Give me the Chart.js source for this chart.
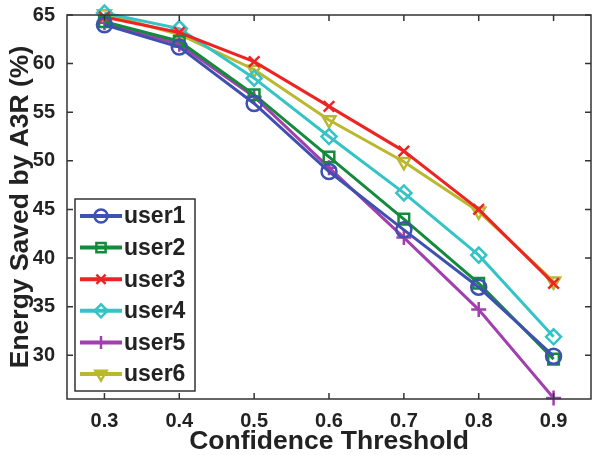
<!DOCTYPE html>
<html>
<head>
<meta charset="utf-8">
<script src="https://cdn.jsdelivr.net/npm/chart.js@4.4.1/dist/chart.umd.min.js"></script>
<style>
  html, body { margin: 0; padding: 0; background: #fff; }
  #wrap { width: 592px; height: 455px; }
</style>
</head>
<body>
<div id="wrap"><canvas id="myChart" width="592" height="455"></canvas></div>
<script>
const thresholds = [0.3, 0.4, 0.5, 0.6, 0.7, 0.8, 0.9];
const user1 = [64.0, 61.7, 55.9, 48.9, 42.9, 37.0, 29.9];
const user2 = [64.3, 62.3, 56.8, 50.4, 44.0, 37.4, 29.6];
const user3 = [64.8, 63.2, 60.2, 55.6, 51.0, 45.0, 37.4];
const user4 = [65.2, 63.6, 58.5, 52.5, 46.7, 40.3, 31.9];
const user5 = [64.2, 62.0, 56.6, 49.3, 42.1, 34.7, 25.6];
const user6 = [65.1, 63.0, 59.4, 54.2, 49.9, 44.8, 37.6];
const xTicks = [0.3, 0.4, 0.5, 0.6, 0.7, 0.8, 0.9];
const yTicks = [30, 35, 40, 45, 50, 55, 60, 65];

const FONT = "'Liberation Sans', Arial, sans-serif";
const INK = '#222';

function series(label, values, color, style, rotation) {
  return {
    label: label,
    data: thresholds.map((t, i) => ({ x: t, y: values[i] })),
    borderColor: color,
    backgroundColor: 'rgba(0,0,0,0)',
    borderWidth: 3,
    pointStyle: style,
    pointRotation: rotation || 0,
    pointRadius: 7.5,
    pointBorderWidth: 2.5,
    pointBorderColor: color,
    pointBackgroundColor: 'rgba(0,0,0,0)',
    tension: 0,
    clip: false,
  };
}

// MATLAB-like box with inward ticks on all four sides
const frame = {
  id: 'frame',
  afterDraw(chart) {
    const { ctx, chartArea: a, scales } = chart;
    ctx.save();
    ctx.strokeStyle = '#333';
    ctx.lineWidth = 1.5;
    ctx.strokeRect(a.left, a.top, a.right - a.left, a.bottom - a.top);
    ctx.beginPath();
    xTicks.forEach(v => {
      const px = scales.x.getPixelForValue(v);
      ctx.moveTo(px, a.bottom); ctx.lineTo(px, a.bottom - 6);
      ctx.moveTo(px, a.top); ctx.lineTo(px, a.top + 6);
    });
    yTicks.forEach(v => {
      const py = scales.y.getPixelForValue(v);
      ctx.moveTo(a.left, py); ctx.lineTo(a.left + 6, py);
      ctx.moveTo(a.right, py); ctx.lineTo(a.right - 6, py);
    });
    ctx.stroke();
    ctx.restore();
  },
};

// legend box in lower-left corner of the plot
const insideLegend = {
  id: 'insideLegend',
  afterDraw(chart) {
    const { ctx, chartArea: a } = chart;
    const left = a.left + 8, top = 199, w = 120, h = 192;
    ctx.save();
    ctx.fillStyle = '#fff';
    ctx.fillRect(left, top, w, h);
    ctx.strokeStyle = '#333';
    ctx.lineWidth = 1.5;
    ctx.strokeRect(left, top, w, h);
    chart.data.datasets.forEach((ds, i) => {
      const y = top + 17 + i * 31.6;
      ctx.strokeStyle = ds.borderColor;
      ctx.lineWidth = 4;
      ctx.beginPath();
      ctx.moveTo(left + 5, y);
      ctx.lineTo(left + 47, y);
      ctx.stroke();
      ctx.lineWidth = 2.5;
      ctx.fillStyle = 'rgba(0,0,0,0)';
      Chart.helpers.drawPoint(ctx, {
        pointStyle: ds.pointStyle,
        rotation: ds.pointRotation,
        radius: 6.5,
        borderWidth: 2.5,
      }, left + 26, y);
      ctx.fillStyle = INK;
      ctx.font = 'bold 23px ' + FONT;
      ctx.textBaseline = 'middle';
      ctx.fillText(ds.label, left + 49, y + 1);
    });
    ctx.restore();
  },
};

const ctx = document.getElementById('myChart').getContext('2d');
const myChart = new Chart(ctx, {
  type: 'line',
  data: {
    datasets: [
      series('user1', user1, '#3f51b0', 'circle'),
      series('user2', user2, '#138a3c', 'rect'),
      series('user3', user3, '#ee2424', 'crossRot'),
      series('user4', user4, '#34c3c6', 'rectRot'),
      series('user5', user5, '#a23fae', 'cross'),
      series('user6', user6, '#b9b82e', 'triangle', 180),
    ],
  },
  plugins: [frame, insideLegend],
  options: {
    responsive: false,
    animation: false,
    layout: { autoPadding: false, padding: { top: 15, right: 1, left: 0, bottom: 0 } },
    plugins: {
      legend: { display: false },
      tooltip: { enabled: false },
    },
    scales: {
      x: {
        type: 'linear',
        min: 0.25,
        max: 0.95,
        afterBuildTicks: s => { s.ticks = xTicks.map(v => ({ value: v })); },
        afterFit: s => { s.height = 56; s.paddingLeft = 0; s.paddingRight = 0; },
        grid: { display: false },
        border: { display: false },
        ticks: {
          color: INK,
          padding: 2,
          font: { family: FONT, size: 20, weight: 'bold' },
          callback: v => v.toFixed(1),
        },
        title: {
          display: true,
          text: 'Confidence Threshold',
          color: INK,
          padding: { top: 0, bottom: 0 },
          font: { family: FONT, size: 26.5, weight: 'bold', lineHeight: 1 },
        },
      },
      y: {
        min: 25.5,
        max: 65,
        afterBuildTicks: s => { s.ticks = yTicks.map(v => ({ value: v })); },
        afterFit: s => { s.width = 67; s.paddingTop = 0; s.paddingBottom = 0; },
        grid: { display: false },
        border: { display: false },
        ticks: {
          color: INK,
          padding: 4,
          font: { family: FONT, size: 20, weight: 'bold' },
        },
        title: {
          display: true,
          text: 'Energy Saved by A3R (%)',
          color: INK,
          padding: { top: 7, bottom: 0 },
          font: { family: FONT, size: 26.5, weight: 'bold', lineHeight: 1 },
        },
      },
    },
  },
});
</script>
</body>
</html>
